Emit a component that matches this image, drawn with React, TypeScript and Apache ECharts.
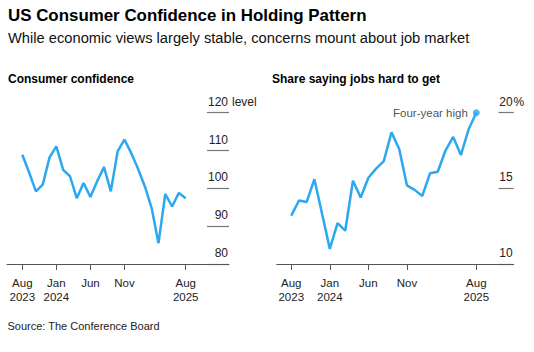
import React, { useEffect, useRef } from "react";
import * as echarts from "echarts";

// Months from Aug 2023 (index 0) to Aug 2025 (index 24)
const months = [
  "Aug 2023", "Sep 2023", "Oct 2023", "Nov 2023", "Dec 2023",
  "Jan 2024", "Feb 2024", "Mar 2024", "Apr 2024", "May 2024", "Jun 2024", "Jul 2024",
  "Aug 2024", "Sep 2024", "Oct 2024", "Nov 2024", "Dec 2024",
  "Jan 2025", "Feb 2025", "Mar 2025", "Apr 2025", "May 2025", "Jun 2025", "Jul 2025", "Aug 2025",
];

const confidence = [
  108.9, 104.2, 99.2, 101.0, 108.2, 111.1, 104.9, 103.2, 97.4, 101.4, 97.7, 101.9,
  105.6, 99.2, 109.8, 112.9, 109.3, 105.2, 100.5, 94.8, 85.5, 98.5, 95.2, 98.8, 97.4,
];

const jobsHard = [
  13.2, 14.2, 14.1, 15.6, 13.3, 11.0, 12.7, 12.2, 15.5, 14.4, 15.7, 16.3,
  16.8, 18.7, 17.6, 15.2, 14.9, 14.5, 16.0, 16.1, 17.5, 18.4, 17.2, 18.9, 20.0,
];

const tickMonths = [0, 5, 10, 15, 24];
const tickLabels: Record<number, string> = {
  0: "Aug\n2023",
  5: "Jan\n2024",
  10: "Jun",
  15: "Nov",
  24: "Aug\n2025",
};

const leftTicks = [80, 90, 100, 110, 120];
const rightTicks = [10, 15, 20];

const FONT = "Liberation Sans, Arial, sans-serif";
const BLUE = "#2ba8f0";
const TEXT = "#222";

export default function App() {
  const ref = useRef<HTMLDivElement>(null);

  useEffect(() => {
    if (!ref.current) return;
    const chart = echarts.init(ref.current, undefined, { renderer: "svg" });

    const xAxisBase = (gridIndex: number, min: number, max: number) => ({
      type: "value" as const,
      gridIndex,
      min,
      max,
      splitLine: { show: false },
      axisLine: { show: true, lineStyle: { color: "#555", width: 1 } },
      axisTick: {
        show: true,
        customValues: tickMonths,
        length: 6,
        lineStyle: { color: "#555", width: 1 },
      },
      axisLabel: {
        customValues: tickMonths,
        formatter: (v: number) => tickLabels[Math.round(v)] ?? "",
        color: TEXT,
        fontFamily: FONT,
        fontSize: 11.5,
        lineHeight: 14,
        margin: 12,
      },
      z: 5,
    });

    const yAxisBase = (gridIndex: number, min: number, max: number, ticks: number[]) => ({
      type: "value" as const,
      gridIndex,
      position: "right" as const,
      min,
      max,
      splitLine: { show: false },
      axisLine: { show: false },
      axisTick: { show: false },
      axisLabel: {
        inside: true,
        customValues: ticks,
        color: TEXT,
        fontFamily: FONT,
        fontSize: 12,
        verticalAlign: "bottom" as const,
        padding: [0, 0, 5, 0],
        margin: 1,
        showMinLabel: true,
        showMaxLabel: true,
      },
    });

    // narrow grids that only carry the short gridline dashes at the right
    const hiddenX = (gridIndex: number) => ({
      type: "value" as const,
      gridIndex,
      min: 0,
      max: 1,
      show: false,
    });
    const gridLineY = (gridIndex: number, min: number, max: number, interval: number) => ({
      type: "value" as const,
      gridIndex,
      min,
      max,
      interval,
      axisLine: { show: false },
      axisTick: { show: false },
      axisLabel: { show: false },
      splitLine: { show: true, lineStyle: { color: "#777", width: 1.2 } },
    });

    const titleBase = { padding: 0 };

    chart.setOption({
      animation: false,
      backgroundColor: "#fff",
      textStyle: { fontFamily: FONT },
      title: [
        {
          ...titleBase,
          text: "US Consumer Confidence in Holding Pattern",
          left: 8,
          top: 6.5,
          textStyle: { fontSize: 16.9, fontWeight: "bold", color: "#000", fontFamily: FONT },
        },
        {
          ...titleBase,
          text: "While economic views largely stable, concerns mount about job market",
          left: 8,
          top: 30.5,
          textStyle: { fontSize: 14.7, fontWeight: "normal", color: "#111", fontFamily: FONT },
        },
        {
          ...titleBase,
          text: "Consumer confidence",
          left: 8,
          top: 72.5,
          textStyle: { fontSize: 12, fontWeight: "bold", color: "#000", fontFamily: FONT },
        },
        {
          ...titleBase,
          text: "Share saying jobs hard to get",
          left: 272,
          top: 72.5,
          textStyle: { fontSize: 12, fontWeight: "bold", color: "#000", fontFamily: FONT },
        },
        {
          ...titleBase,
          text: "Source: The Conference Board",
          left: 7.5,
          top: 320.5,
          textStyle: { fontSize: 11, fontWeight: "normal", color: "#222", fontFamily: FONT },
        },
      ],
      grid: [
        { left: 7, width: 222, top: 112.7, height: 151.3 },
        { left: 276.7, width: 237, top: 112.7, height: 151.3 },
        { left: 207, width: 22, top: 112.7, height: 151.3 },
        { left: 498.5, width: 15.2, top: 112.7, height: 151.3 },
      ],
      xAxis: [
        xAxisBase(0, -2.25, 30.36),
        xAxisBase(1, -1.89, 28.85),
        hiddenX(2),
        hiddenX(3),
      ],
      yAxis: [
        yAxisBase(0, 80, 120, leftTicks),
        yAxisBase(1, 10, 20, rightTicks),
        gridLineY(2, 80, 120, 10),
        gridLineY(3, 10, 20, 5),
      ],
      graphic: [
        {
          type: "text",
          left: 232,
          top: 95.5,
          style: { text: "level", fontSize: 12, fill: TEXT, fontFamily: FONT },
        },
        {
          type: "text",
          left: 513.5,
          top: 95.5,
          style: { text: "%", fontSize: 12, fill: TEXT, fontFamily: FONT },
        },
      ],
      series: [
        {
          type: "line",
          xAxisIndex: 0,
          yAxisIndex: 0,
          data: confidence.map((v, i) => [i, v]),
          showSymbol: false,
          lineStyle: { color: BLUE, width: 2.5 },
          silent: true,
        },
        {
          type: "line",
          xAxisIndex: 1,
          yAxisIndex: 1,
          data: jobsHard.map((v, i) => [i, v]),
          showSymbol: false,
          lineStyle: { color: BLUE, width: 2.5 },
          silent: true,
        },
        {
          type: "scatter",
          xAxisIndex: 1,
          yAxisIndex: 1,
          data: [[jobsHard.length - 1, jobsHard[jobsHard.length - 1]]],
          symbol: "circle",
          symbolSize: 7,
          itemStyle: { color: BLUE },
          label: {
            show: true,
            position: "left",
            distance: 5,
            formatter: "Four-year high",
            color: "#222",
            fontFamily: FONT,
            fontSize: 11.5,
          },
          silent: true,
        },
      ],
    });

    return () => chart.dispose();
  }, []);

  return <div ref={ref} style={{ width: 534, height: 352, position: "absolute", left: 0, top: 0 }} />;
}
